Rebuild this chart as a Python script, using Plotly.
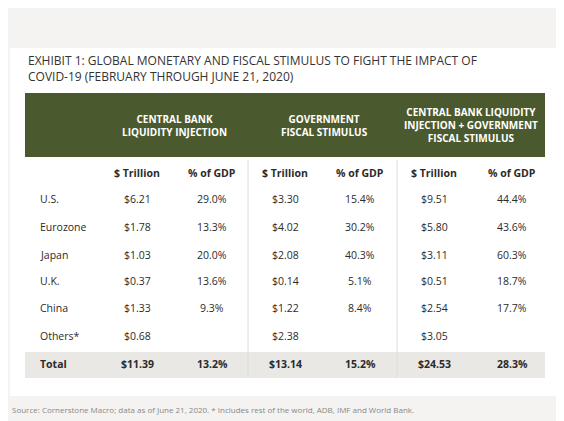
import plotly.graph_objects as go

regions = ["U.S.", "Eurozone", "Japan", "U.K.", "China", "Others*", "Total"]
cb_trillion = ["$6.21", "$1.78", "$1.03", "$0.37", "$1.33", "$0.68", "$11.39"]
cb_gdp = ["29.0%", "13.3%", "20.0%", "13.6%", "9.3%", "", "13.2%"]
gov_trillion = ["$3.30", "$4.02", "$2.08", "$0.14", "$1.22", "$2.38", "$13.14"]
gov_gdp = ["15.4%", "30.2%", "40.3%", "5.1%", "8.4%", "", "15.2%"]
tot_trillion = ["$9.51", "$5.80", "$3.11", "$0.51", "$2.54", "$3.05", "$24.53"]
tot_gdp = ["44.4%", "43.6%", "60.3%", "18.7%", "17.7%", "", "28.3%"]
group_headers = ["CENTRAL BANK<br>LIQUIDITY INJECTION", "GOVERNMENT<br>FISCAL STIMULUS",
                 "CENTRAL BANK LIQUIDITY<br>INJECTION + GOVERNMENT<br>FISCAL STIMULUS"]
sub_headers = ["$ Trillion", "% of GDP"] * 3

FONT = "Open Sans"
DARK = "#2b2b2b"
fig = go.Figure()
shapes = []
ann = []
shapes.append(dict(type="rect", x0=10, x1=556, y0=48, y1=396, fillcolor="white", line_width=0, layer="below"))
shapes.append(dict(type="rect", x0=25, x1=545, y0=93, y1=157, fillcolor="#4b5a2e", line_width=0, layer="below"))
shapes.append(dict(type="rect", x0=25, x1=545, y0=352, y1=378, fillcolor="#e9e8e5", line_width=0, layer="below"))
for xv in [248, 397]:
    shapes.append(dict(type="line", x0=xv, x1=xv, y0=160, y1=378, line=dict(color="#dcdcdc", width=1), layer="below"))

ann.append(dict(x=3, y=13, text="Economic policymakers have responded to COVID-19 in unprecedented ways",
                xanchor="left", yanchor="middle", showarrow=False, font=dict(family=FONT, size=14.5, color=DARK)))
ann.append(dict(x=26, y=68, text="EXHIBIT 1: GLOBAL MONETARY AND FISCAL STIMULUS TO FIGHT THE IMPACT OF<br>COVID-19 (FEBRUARY THROUGH JUNE 21, 2020)",
                xanchor="left", yanchor="middle", align="left", showarrow=False,
                font=dict(family=FONT, size=12, color="#333")))
for cx, t in zip([174, 324, 471], group_headers):
    ann.append(dict(x=cx, y=125, text="<b>" + t + "</b>", showarrow=False, align="center",
                    font=dict(family=FONT, size=10, color="white")))
col_x = [137, 212, 285, 360, 434, 512]
for cx, t in zip(col_x, sub_headers):
    ann.append(dict(x=cx, y=173, text="<b>" + t + "</b>", showarrow=False,
                    font=dict(family=FONT, size=10.5, color=DARK)))
row_y = [199, 227, 255, 281, 308, 336, 364]
cols = [cb_trillion, cb_gdp, gov_trillion, gov_gdp, tot_trillion, tot_gdp]
for i, ry in enumerate(row_y):
    bold = regions[i] == "Total"
    w = (lambda s: "<b>" + s + "</b>") if bold else (lambda s: s)
    ann.append(dict(x=38, y=ry, text=w(regions[i]), xanchor="left", showarrow=False,
                    font=dict(family=FONT, size=10.5, color=DARK)))
    for cx, col in zip(col_x, cols):
        if col[i]:
            ann.append(dict(x=cx, y=ry, text=w(col[i]), showarrow=False,
                            font=dict(family=FONT, size=10.5, color=DARK)))
ann.append(dict(x=10, y=409, text="Source: Cornerstone Macro; data as of June 21, 2020. * Includes rest of the world, ADB, IMF and World Bank.",
                xanchor="left", showarrow=False, font=dict(family=FONT, size=8, color="#888")))

# page body has an 8px margin: offset axis ranges so content lands at reference pixels
fig.update_layout(width=564, height=421, margin=dict(l=0, r=0, t=0, b=0),
                  paper_bgcolor="#f4f3f1", plot_bgcolor="#f4f3f1",
                  xaxis=dict(range=[8, 572], visible=False, fixedrange=True),
                  yaxis=dict(range=[429, 8], visible=False, fixedrange=True),
                  shapes=shapes, annotations=ann, showlegend=False)
fig.write_html("out.html", config={"displayModeBar": False})
